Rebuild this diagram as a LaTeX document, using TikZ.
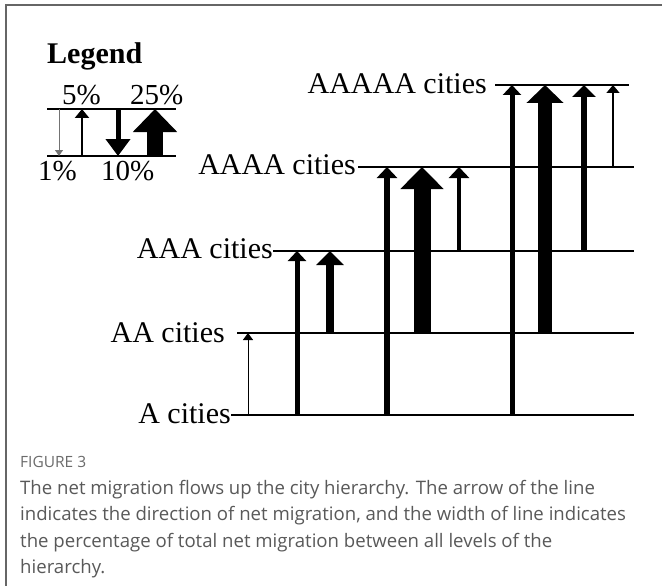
\documentclass[tikz,border=0pt]{standalone}
\usepackage{fontspec}
\setmainfont{Liberation Serif}
\newfontfamily\capfont{Open Sans}
\usetikzlibrary{arrows.meta}
\begin{document}
\begin{tikzpicture}[x=1pt,y=-1pt,
  lvl/.style={font=\fontsize{30}{30}\selectfont, inner sep=0pt, anchor=base east},
  pct/.style={font=\fontsize{29}{29}\selectfont, inner sep=0pt, anchor=base west},
  hline/.style={line width=2pt},
  flw/.style n args={3}{line width=#1pt, line cap=butt, -{Triangle[width=#2pt,length=#3pt]}},
  frame/.style={draw=black!60, line width=2pt},
  captxt/.style={font=\capfont\fontsize{18.6}{26.3}\selectfont, text=black!65, inner sep=0pt, anchor=north west, align=left},
  capttl/.style={font=\capfont\fontsize{15.5}{16}\selectfont, text=black!58, inner sep=0pt, anchor=base west}
]
\useasboundingbox (0,0) rectangle (662,586);
\fill[white] (0,0) rectangle (662,586);
\draw[frame] (6,586) -- (6,5) -- (662,5);

% Legend
\node[font=\bfseries\fontsize{30}{30}\selectfont, inner sep=0pt, anchor=base west] (leg) at (47,64) {Legend};
\coordinate (LT) at (176,109);
\coordinate (LB) at (176,156);
\draw[hline] (47,0 |- LT) -- (LT);
\draw[hline] (47,0 |- LB) -- (LB);
\node[pct] (p5) at (62,105) {5\%};
\node[pct] (p25) at (130,105) {25\%};
\node[pct] (p1) at (38,180) {1\%};
\node[pct] (p10) at (101,180) {10\%};
\draw[flw={1}{8}{6}, black!55] (59,0 |- LT) -- (59,0 |- LB);
\draw[flw={2.2}{14}{9}] (82,0 |- LB) -- (82,0 |- LT);
\draw[flw={5}{24}{17}] (118,0 |- LT) -- (118,0 |- LB);
\draw[flw={16}{43}{23}] (155,0 |- LB) -- (155,0 |- LT);

% Levels
\coordinate (A) at (634,415);
\coordinate (AA) at (634,333);
\coordinate (AAA) at (634,251);
\coordinate (AAAA) at (634,167);
\coordinate (AAAAA) at (629,85);
\node[lvl] (lA) at (231,423) {A cities};
\node[lvl] (lAA) at (225,342) {AA cities};
\node[lvl] (lAAA) at (273,258) {AAA cities};
\node[lvl] (lAAAA) at (356,174) {AAAA cities};
\node[lvl] (lAAAAA) at (487,94) {AAAAA cities};
\draw[hline] (231,0 |- A) -- (A);
\draw[hline] (237,0 |- AA) -- (AA);
\draw[hline] (273,0 |- AAA) -- (AAA);
\draw[hline] (358,0 |- AAAA) -- (AAAA);
\draw[hline] (495,0 |- AAAAA) -- (AAAAA);

% Flows
\draw[flw={1}{10}{7}]   (248,0 |- A) -- (248,0 |- AA);
\draw[flw={5}{18}{10}]  (297,0 |- A) -- (297,0 |- AAA);
\draw[flw={7.5}{27}{14}] (330,0 |- AA) -- (330,0 |- AAA);
\draw[flw={5.5}{20}{11}] (387,0 |- A) -- (387,0 |- AAAA);
\draw[flw={17}{42}{22}] (422,0 |- AA) -- (422,0 |- AAAA);
\draw[flw={4.5}{20}{11}] (459,0 |- AAA) -- (459,0 |- AAAA);
\draw[flw={5}{18}{10}]  (512,0 |- A) -- (512,0 |- AAAAA);
\draw[flw={13.5}{36}{18}] (545,0 |- AA) -- (545,0 |- AAAAA);
\draw[flw={5.5}{23}{12}] (584,0 |- AAA) -- (584,0 |- AAAAA);
\draw[flw={1.5}{13}{8}] (613,0 |- AAAA) -- (613,0 |- AAAAA);

% Caption
\node[capttl] (fig) at (20,467) {FIGURE 3};
\node[captxt] (cap) at (20,480) {The net migration flows up the city hierarchy. The arrow of the line\\
indicates the direction of net migration, and the width of line indicates\\
the percentage of total net migration between all levels of the\\
hierarchy.};
\end{tikzpicture}
\end{document}
